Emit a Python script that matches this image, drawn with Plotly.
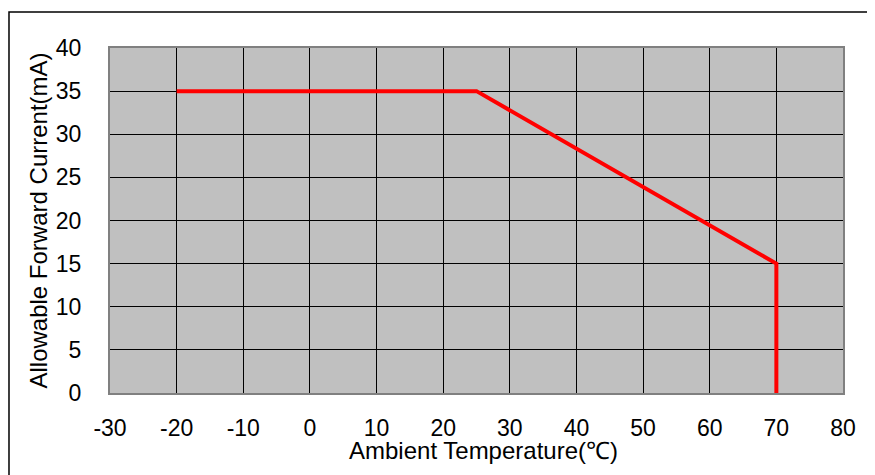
import plotly.graph_objects as go

temperature = [-20, 25, 70, 70]
current = [35, 35, 15, 0]

x_ticks = [-30, -20, -10, 0, 10, 20, 30, 40, 50, 60, 70, 80]
y_ticks = [0, 5, 10, 15, 20, 25, 30, 35, 40]

FONT = "Liberation Sans, Arial, sans-serif"

fig = go.Figure()
fig.add_trace(go.Scatter(
    x=temperature, y=current, mode="lines",
    line=dict(color="#FF0000", width=4),
    showlegend=False, hoverinfo="skip",
))

fig.update_layout(
    width=867, height=467,
    margin=dict(l=102, r=32, t=40, b=82, autoexpand=False),
    paper_bgcolor="white", plot_bgcolor="#C0C0C0",
    font=dict(family=FONT, size=23, color="black"),
    shapes=[dict(type="rect", xref="paper", yref="paper",
                 x0=-0.1378, x1=1.3, y0=-0.5, y1=1.1043,
                 line=dict(color="black", width=1.5), layer="below")],
    annotations=[dict(text="Ambient Temperature(℃)", xref="paper", yref="paper",
                      x=0.51, y=-0.168, xanchor="center", yanchor="middle",
                      showarrow=False, font=dict(size=24))],
)
fig.update_xaxes(
    range=[-30, 80], tickvals=x_ticks, ticktext=[str(v) for v in x_ticks],
    showgrid=True, gridcolor="black", gridwidth=1,
    showline=True, linecolor="#808080", linewidth=2, mirror=True,
    ticks="", ticklabelstandoff=13, zeroline=False,
    automargin=False,
)
fig.update_yaxes(
    range=[0, 40], tickvals=y_ticks, ticktext=[str(v) for v in y_ticks],
    showgrid=True, gridcolor="black", gridwidth=1,
    showline=True, linecolor="#808080", linewidth=2, mirror=True,
    ticks="", ticklabelstandoff=22, zeroline=False,
    title=dict(text="Allowable Forward Current(mA)", standoff=1, font=dict(size=24)),
    automargin=False,
)

fig.write_html("out.html")
